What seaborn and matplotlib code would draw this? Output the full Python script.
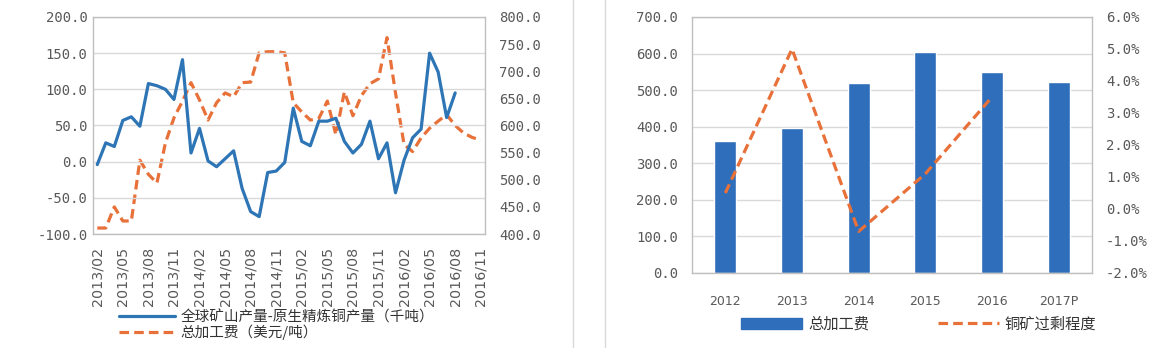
import numpy as np
import pandas as pd
import matplotlib
matplotlib.use("Agg")
import matplotlib.pyplot as plt
import seaborn as sns
from matplotlib.lines import Line2D
from matplotlib.patches import Patch

sns.set_theme(style="white")
plt.rcParams['font.family'] = ['Noto Sans CJK SC', 'DejaVu Sans']

# ---------------- data ----------------
months = ["2013/02", "2013/03", "2013/04", "2013/05", "2013/06", "2013/07", "2013/08", "2013/09",
          "2013/10", "2013/11", "2013/12", "2014/01", "2014/02", "2014/03", "2014/04", "2014/05",
          "2014/06", "2014/07", "2014/08", "2014/09", "2014/10", "2014/11", "2014/12", "2015/01",
          "2015/02", "2015/03", "2015/04", "2015/05", "2015/06", "2015/07", "2015/08", "2015/09",
          "2015/10", "2015/11", "2015/12", "2016/01", "2016/02", "2016/03", "2016/04", "2016/05",
          "2016/06", "2016/07", "2016/08", "2016/09", "2016/10", "2016/11"]
tick_months = months[::3]
mine_minus_refined = [-4, 26, 21, 57, 62, 49, 108, 105, 100, 86, 141, 12, 46, 1, -7, 4,
                      15, -37, -69, -76, -15, -13, -1, 74, 28, 22, 56, 56, 60, 28,
                      12, 24, 56, 4, 26, -43, 2, 33, 45, 150, 124, 61, 95]
tc_rc = [411, 411, 450, 424, 424, 536, 510, 494, 568, 614, 645, 679, 647, 610, 642, 660,
         653, 679, 680, 734, 736, 736, 734, 642, 625, 610, 613, 645, 583, 662, 618, 655,
         677, 686, 762, 660, 565, 552, 577, 595, 608, 620, 600, 586, 578, 573]
label_mine = "全球矿山产量-原生精炼铜产量（千吨）"
label_tc = "总加工费（美元/吨）"

years = ["2012", "2013", "2014", "2015", "2016", "2017P"]
total_fee = [361, 396, 519, 604, 549, 522]
surplus_years = ["2012", "2013", "2014", "2015", "2016"]
surplus_pct = [0.5, 5.0, -0.7, 1.1, 3.5]
label_fee = "总加工费"
label_surplus = "铜矿过剩程度"

BLUE = "#2E75B6"
BAR = "#2F6EBA"
ORANGE = "#E8713A"
GRID = "#D9D9D9"
SPINE = "#BFBFBF"
TXT = "#595959"
MONO = "DejaVu Sans Mono"

fig = plt.figure(figsize=(11.64, 3.48), dpi=100)

# ---------------- left chart ----------------
axL = fig.add_axes([93/1164, 1-234/348, 392/1164, 217/348])
idx_m = np.arange(len(mine_minus_refined))
idx_t = np.arange(len(tc_rc))
sns.lineplot(x=idx_m, y=mine_minus_refined, ax=axL, color=BLUE, linewidth=2.3)
axL.set_ylim(-100, 200)
axL.set_yticks(np.arange(-100, 201, 50))
axL.set_yticklabels([f"{v:.1f}" for v in np.arange(-100, 201, 50)], fontsize=10,
                    color=TXT, family=MONO)
axL.set_xlim(-0.5, len(months) - 0.5)
axL.set_xticks(np.arange(0, len(months), 3))
axL.set_xticklabels(tick_months, rotation=90, fontsize=10.3, color=TXT, family="DejaVu Sans")
axL.grid(axis="y", color=GRID, linewidth=1)
axL.set_axisbelow(True)
for s in axL.spines.values():
    s.set_color(SPINE)
    s.set_linewidth(1)
axL.tick_params(axis="y", length=0, pad=4)
axL.tick_params(axis="x", length=0, pad=9)

axLr = axL.twinx()
sns.lineplot(x=idx_t, y=tc_rc, ax=axLr, color=ORANGE, linewidth=2.3)
axLr.lines[0].set_dashes([3, 1.6])
axLr.set_ylim(400, 800)
axLr.set_yticks(np.arange(400, 801, 50))
axLr.set_yticklabels([f"{v:.1f}" for v in np.arange(400, 801, 50)], fontsize=10,
                     color=TXT, family=MONO)
axLr.tick_params(length=0, pad=10)
axLr.grid(False)
for s in axLr.spines.values():
    s.set_visible(False)
axL.set_zorder(axLr.get_zorder() + 1)
axL.patch.set_visible(False)

hL = [Line2D([0], [0], color=BLUE, linewidth=2.3),
      Line2D([0], [0], color=ORANGE, linewidth=2.3, dashes=[3, 1.6])]
fig.legend(hL, [label_mine, label_tc], loc="lower left",
           bbox_to_anchor=(112/1164, 1/348), frameon=False, fontsize=10.5,
           handlelength=3.8, handletextpad=0.4, labelspacing=0.0, borderpad=0,
           labelcolor="#333333")

# ---------------- right chart ----------------
axR = fig.add_axes([692/1164, 1-273/348, 400/1164, 256/348])
df_fee = pd.DataFrame({"year": years, "fee": total_fee})
sns.barplot(data=df_fee, x="year", y="fee", ax=axR, color=BAR, width=0.33,
            saturation=1)
axR.set_xlim(-0.5, len(years) - 0.5)
axR.set_ylim(0, 700)
axR.set_yticks(np.arange(0, 701, 100))
axR.set_yticklabels([f"{v:.1f}" for v in np.arange(0, 701, 100)], fontsize=10,
                    color=TXT, family=MONO)
axR.set_xticks(np.arange(len(years)))
axR.set_xticklabels(years, fontsize=9, color=TXT, family="DejaVu Sans")
axR.set_xlabel("")
axR.set_ylabel("")
axR.grid(axis="y", color=GRID, linewidth=1)
axR.set_axisbelow(True)
for s in axR.spines.values():
    s.set_color(SPINE)
    s.set_linewidth(1)
axR.tick_params(axis="y", length=0, pad=10)
axR.tick_params(axis="x", length=0, pad=16)

axRr = axR.twinx()
sns.lineplot(x=np.arange(len(surplus_pct)), y=surplus_pct, ax=axRr, color=ORANGE,
             linewidth=2.3)
axRr.lines[0].set_dashes([3, 1.6])
axRr.set_ylim(-2, 6)
axRr.set_yticks(np.arange(-2, 7, 1))
axRr.set_yticklabels([f"{v:.1f}%" for v in np.arange(-2, 7, 1)], fontsize=10,
                     color=TXT, family=MONO)
axRr.tick_params(length=0, pad=10)
axRr.grid(False)
for s in axRr.spines.values():
    s.set_visible(False)

hR = [Patch(facecolor=BAR, edgecolor=BAR),
      Line2D([0], [0], color=ORANGE, linewidth=2.3, dashes=[3, 1.6])]
fig.legend(hR, [label_fee, label_surplus], loc="center left",
           bbox_to_anchor=(733/1164, 1-324/348), frameon=False, fontsize=11,
           ncol=2, handlelength=4.0, handletextpad=0.4, columnspacing=4.5,
           borderpad=0, labelcolor="#333333")

# panel separators
fig.add_artist(Line2D([573/1164, 573/1164], [0, 1], color=GRID, linewidth=1))
fig.add_artist(Line2D([605/1164, 605/1164], [0, 1], color=GRID, linewidth=1))

fig.savefig("out.png", dpi=100)
